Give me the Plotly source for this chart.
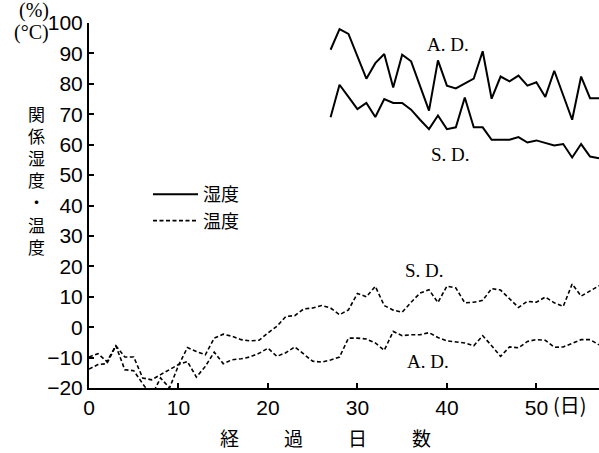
import plotly.graph_objects as go

# ---- data ----
temp_days = list(range(0, 58))
temp_sd = [-9.8, -8.7, -11.3, -6.1, -14.0, -14.3, -18.6, -22.5, -16.7, -20.0,
           -12.6, -6.7, -8.0, -9.1, -3.6, -2.3, -3.0, -4.1, -4.5, -4.3,
           -1.9, 0.3, 3.5, 3.8, 6.0, 6.3, 7.1, 6.3, 4.1, 5.7,
           11.1, 10.0, 13.4, 7.1, 5.6, 4.9, 8.2, 11.2, 12.3, 8.1,
           13.5, 12.9, 8.0, 8.2, 8.8, 12.7, 12.2, 9.5, 6.5, 8.5,
           8.2, 9.9, 8.0, 6.8, 14.2, 10.2, 12.0, 13.6]
temp_ad = [-13.8, -12.3, -12.0, -6.1, -9.8, -9.8, -16.7, -17.3, -15.6, -14.0,
           -12.3, -11.3, -16.4, -12.9, -8.2, -12.0, -10.7, -10.4, -9.8, -8.6,
           -6.9, -9.6, -8.4, -6.5, -9.0, -11.2, -11.5, -10.8, -9.8, -3.6,
           -3.6, -3.9, -5.2, -7.6, -1.4, -2.8, -2.5, -2.5, -1.8, -3.4,
           -4.5, -4.8, -5.2, -6.1, -2.8, -6.1, -9.6, -6.5, -6.8, -4.7,
           -4.1, -4.3, -6.6, -6.5, -5.2, -4.1, -4.1, -5.8]
hum_days = list(range(27, 58))
hum_ad = [91.2, 98.0, 96.4, 89.0, 81.7, 86.8, 89.8, 78.8, 89.6, 87.4,
          79.4, 71.2, 87.7, 79.4, 78.5, 80.0, 81.7, 90.7, 75.1, 82.4,
          80.8, 82.7, 79.4, 80.5, 75.7, 84.3, 76.4, 68.2, 82.4, 75.3, 75.3]
hum_sd = [69.0, 79.7, 75.7, 71.7, 73.7, 69.1, 75.0, 73.7, 73.7, 71.5,
          68.2, 65.1, 69.6, 65.1, 65.7, 75.5, 65.7, 65.7, 61.6, 61.6,
          61.6, 62.5, 60.7, 61.4, 60.5, 59.7, 60.2, 55.8, 60.2, 56.1, 55.5]

x_ticks = [0, 10, 20, 30, 40, 50]
y_ticks = list(range(-20, 101, 10))
legend_names = ["湿度", "温度"]
series_labels = ["A. D.", "S. D."]
y_title_chars = ["関", "係", "湿", "度", "・", "温", "度"]
x_title_chars = ["経", "過", "日", "数"]

W, H = 599, 453
ML, MR, MT, MB = 89, 0, 23, 65
PW, PH = W - ML - MR, H - MT - MB

def px(xp):
    return (xp - ML) / PW

def py(yp):
    return 1 - (yp - MT) / PH

solid = dict(color="black", width=2)
dashed = dict(color="black", width=1.6, dash="4px,2.5px")

fig = go.Figure()
fig.add_trace(go.Scatter(x=hum_days, y=hum_ad, mode="lines", line=solid,
                         name=legend_names[0], showlegend=True))
fig.add_trace(go.Scatter(x=hum_days, y=hum_sd, mode="lines", line=solid,
                         name=legend_names[0], showlegend=False))
fig.add_trace(go.Scatter(x=temp_days, y=temp_sd, mode="lines", line=dashed,
                         name=legend_names[1], showlegend=True))
fig.add_trace(go.Scatter(x=temp_days, y=temp_ad, mode="lines", line=dashed,
                         name=legend_names[1], showlegend=False))

tick_font = dict(family="Liberation Sans Narrow, Arial Narrow, Liberation Sans, Arial",
                 size=21, color="black")
jp = "Noto Sans CJK JP"
serif = "Liberation Serif, Times New Roman, serif"

def note(text, x, y, font, xref="paper", yref="paper", xanchor="center"):
    return dict(x=x, y=y, xref=xref, yref=yref, text=text, showarrow=False,
                xanchor=xanchor, yanchor="middle", font=font, borderpad=0)

annotations = []
# series labels
for txt, xv, yv in [(series_labels[0], 40.1, 92.9), (series_labels[1], 40.4, 56.7),
                    (series_labels[1], 37.5, 18.6), (series_labels[0], 37.9, -11.4)]:
    annotations.append(note(txt, xv, yv, dict(family=serif, size=19, color="black"),
                            xref="x", yref="y"))
# y title (vertical, one character per line)
annotations.append(note("<br>".join(y_title_chars), px(36), py(180.5),
                        dict(family=jp, size=17, color="black")))
# units
annotations.append(note("(%)", px(34), py(11), dict(family=serif, size=20, color="black")))
annotations.append(note("(°C)", px(31), py(32), dict(family=serif, size=20, color="black")))
# x title
for ch, xp in zip(x_title_chars, [229, 293, 357, 421]):
    annotations.append(note(ch, px(xp), py(437), dict(family=jp, size=19, color="black")))
annotations.append(note("(日)", px(552), py(404), dict(family=jp, size=20, color="black"),
                        xanchor="left"))

fig.update_layout(
    template="none",
    width=W, height=H,
    margin=dict(l=ML, r=MR, t=MT, b=MB, autoexpand=False),
    paper_bgcolor="white", plot_bgcolor="white",
    showlegend=True,
    legend=dict(x=px(148), y=py(176), xanchor="left", yanchor="top",
                font=dict(family=jp, size=18, color="black"),
                bgcolor="rgba(0,0,0,0)", itemwidth=45, tracegroupgap=0),
    annotations=annotations,
    xaxis=dict(range=[0, 57], tickvals=x_ticks, ticks="inside", ticklen=5, tickwidth=1.5,
               tickcolor="black", showline=True, linecolor="black", linewidth=2,
               showgrid=False, zeroline=False, tickfont=tick_font, automargin=False),
    yaxis=dict(range=[-20, 100], tickvals=y_ticks, ticks="inside", ticklen=5, tickwidth=1.5,
               tickcolor="black", showline=True, linecolor="black", linewidth=2,
               showgrid=False, zeroline=False, tickfont=tick_font, automargin=False),
)

fig.write_html("out.html", config={"displayModeBar": False},
               post_script="document.body.style.margin='0';document.body.style.overflow='hidden';")
